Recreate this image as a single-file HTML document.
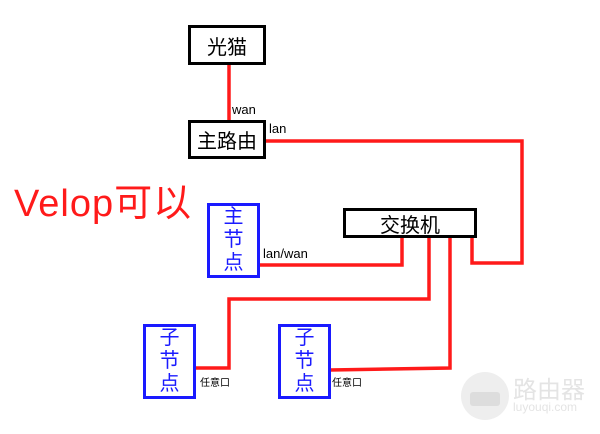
<!DOCTYPE html>
<html><head><meta charset="utf-8"><style>
body{margin:0;width:600px;height:434px;background:#fff;overflow:hidden;position:relative;font-family:"Liberation Sans","Noto Sans CJK SC",sans-serif}
.b{position:absolute;box-sizing:border-box;display:flex;align-items:center;justify-content:center}
.k{border:3px solid #000;font-size:20px;color:#000}
.u{border:3px solid #1a1aff;color:#1a1aff;font-size:20px;line-height:23px;text-align:center;flex-direction:column}
.t{position:absolute;font-size:13px;color:#000}
.s{position:absolute;font-size:10px;color:#000}
</style></head><body>
<svg width="600" height="434" style="position:absolute;left:0;top:0">
<g fill="none" stroke="#ff1a1a" stroke-width="3.5">
<polyline points="229,65 229,121"/>
<polyline points="266,141 522,141 522,263 472,263 472,238"/>
<polyline points="260,265 402,265 402,238"/>
<polyline points="429,238 429,299 229,299 229,368 196,368"/>
<polyline points="450,238 450,368 330,370"/>
</g>
<circle cx="485" cy="396" r="24" fill="#eee"/>
<rect x="470" y="392" width="30" height="14" rx="3" fill="#ddd"/>
</svg>
<div class="b k" style="left:188px;top:25px;width:78px;height:40px">光猫</div>
<div class="b k" style="left:188px;top:120px;width:78px;height:39px">主路由</div>
<div class="b k" style="left:343px;top:208px;width:134px;height:30px">交换机</div>
<div class="b u" style="left:207px;top:203px;width:53px;height:75px">主<br>节<br>点</div>
<div class="b u" style="left:143px;top:324px;width:53px;height:75px">子<br>节<br>点</div>
<div class="b u" style="left:278px;top:324px;width:53px;height:75px">子<br>节<br>点</div>
<div class="t" style="left:232px;top:102px">wan</div>
<div class="t" style="left:269px;top:121px">lan</div>
<div class="t" style="left:263px;top:246px">lan/wan</div>
<div class="s" style="left:200px;top:374px">任意口</div>
<div class="s" style="left:332px;top:374px">任意口</div>
<div style="position:absolute;left:14px;top:172px;font-size:38px;color:#ff1a1a;letter-spacing:1px">Velop可以</div>
<div style="position:absolute;left:513px;top:370px;font-size:24px;color:#e4e4e4">路由器</div>
<div style="position:absolute;left:513px;top:400px;font-size:12px;color:#e4e4e4">luyouqi.com</div>
</body></html>
